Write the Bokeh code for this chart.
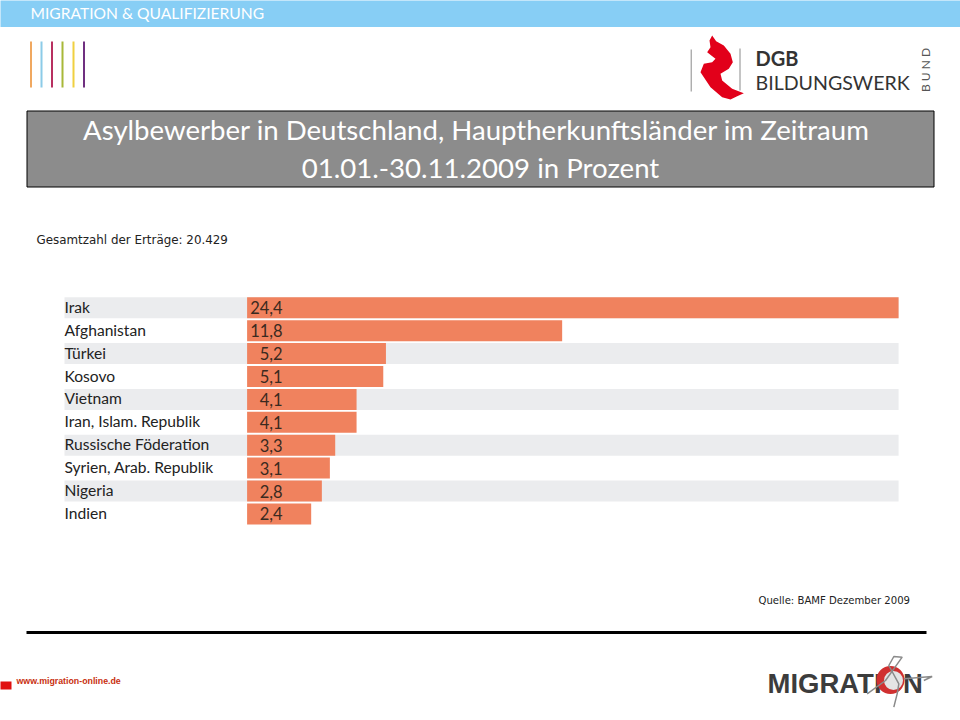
from bokeh.plotting import figure
from bokeh.models import Range1d
from bokeh.core.properties import value
from bokeh.embed import file_html
from bokeh.resources import INLINE

countries = ["Irak", "Afghanistan", "Türkei", "Kosovo", "Vietnam", "Iran, Islam. Republik",
             "Russische Föderation", "Syrien, Arab. Republik", "Nigeria", "Indien"]
values = [24.4, 11.8, 5.2, 5.1, 4.1, 4.1, 3.3, 3.1, 2.8, 2.4]
value_labels = ["24,4", "11,8", "5,2", "5,1", "4,1", "4,1", "3,3", "3,1", "2,8", "2,4"]
title_lines = ["Asylbewerber in Deutschland, Hauptherkunftsländer im Zeitraum", "01.01.-30.11.2009 in Prozent"]
rows = list(range(len(countries)))

PX_PER_UNIT = 26.7
PX_PER_ROW = 22.9
X0 = 246.6
Y0 = 307.3

p = figure(width=960, height=720, output_backend="svg", toolbar_location=None,
           x_range=Range1d(-X0 / PX_PER_UNIT, (960 - X0) / PX_PER_UNIT),
           y_range=Range1d((720 - Y0) / PX_PER_ROW, -Y0 / PX_PER_ROW),
           min_border=0, outline_line_color=None, background_fill_color="white",
           x_axis_location=None, y_axis_location=None)
p.grid.visible = False
p.extra_x_ranges = {"px": Range1d(0, 960)}
p.extra_y_ranges = {"px": Range1d(720, 0)}
PX = dict(x_range_name="px", y_range_name="px")

LABEL_FONT = value("Lato")
SMALL_FONT = value("DejaVu Sans")
ARIAL = value("Liberation Sans")

# header
p.quad(left=-2, right=962, top=-2, bottom=26.5, fill_color="#87cef5", line_color=None, **PX)
p.text(x=[30], y=[12.5], text=["MIGRATION & QUALIFIZIERUNG"], text_color="white", text_font=LABEL_FONT,
       text_font_size="15.6px", text_baseline="middle", **PX)

stripe_x = [30.5, 41, 51.5, 62, 73, 83.5]
stripe_c = ["#f0a860", "#8ccbe8", "#b83060", "#a8b838", "#f0d040", "#703080"]
p.segment(x0=stripe_x, x1=stripe_x, y0=[41] * 6, y1=[87] * 6, line_color=stripe_c, line_width=2, **PX)

# DGB logo
sw_x = [50, 62, 85, 105, 112, 100, 75, 80, 110, 145, 125, 105, 80, 45, 15, 25, 50, 60, 35, 45, 42]
sw_y = [15, 32, 45, 70, 95, 115, 130, 150, 175, 188, 197, 207, 200, 170, 125, 100, 95, 85, 65, 50, 30]
p.patch(x=[695 + v / 3 for v in sw_x], y=[30 + v / 3 for v in sw_y], fill_color="#e2001a", line_color=None, **PX)
p.segment(x0=[690.7, 739.5], x1=[690.7, 739.5], y0=[49, 48], y1=[91, 90], line_color="#8a8a8a", line_width=1, **PX)
p.text(x=[755], y=[57.5], text=["DGB"], text_font=LABEL_FONT, text_font_style="bold", text_font_size="20px",
       text_color="#333333", text_baseline="middle", **PX)
p.text(x=[755], y=[81.5], text=["BILDUNGSWERK"], text_font=LABEL_FONT, text_font_size="19.6px",
       text_color="#333333", text_baseline="middle", **PX)
p.text(x=[925], y=[69.5], text=["B U N D"], text_font=LABEL_FONT, text_font_size="12px", angle=1.5708,
       text_color="#555555", text_align="center", text_baseline="middle", **PX)

# title box
p.quad(left=26.5, right=933.5, top=110.5, bottom=186.5, fill_color="#8c8c8c", line_color="black", line_width=1,
       line_join="miter", **PX)
p.text(x=[476, 480], y=[128.5, 166.5], text=title_lines, text_color="white", text_font=LABEL_FONT,
       text_font_size="27.6px", text_align="center", text_baseline="middle", **PX)

p.text(x=[36], y=[239], text=["Gesamtzahl der Erträge: 20.429"], text_color="#222222", text_font=SMALL_FONT,
       text_font_size="11.9px", text_baseline="middle", **PX)

# chart
band_rows = rows[::2]
p.hbar(y=band_rows, left=[(64 - X0) / PX_PER_UNIT] * len(band_rows), right=[max(values)] * len(band_rows),
       height=21 / PX_PER_ROW, fill_color="#ebecee", line_color=None)
p.hbar(y=rows, left=0, right=values, height=21 / PX_PER_ROW, fill_color="#f0825e", line_color=None)
p.text(x=[(64 - X0) / PX_PER_UNIT] * len(rows), y=rows, text=countries, text_color="#222222",
       text_font=LABEL_FONT, text_font_size="15.6px", text_baseline="middle", y_offset=-1)
p.text(x=[1.37] * len(rows), y=rows, text=value_labels, text_color="#3a2a20", text_align="right",
       text_font=LABEL_FONT, text_font_size="16.5px", text_baseline="middle", x_offset=-1)

p.text(x=[909.5], y=[600], text=["Quelle: BAMF Dezember 2009"], text_color="#222222", text_font=SMALL_FONT,
       text_font_size="10.1px", text_align="right", text_baseline="middle", **PX)

# footer
p.quad(left=26, right=926, top=630.5, bottom=633.5, fill_color="black", line_color=None, **PX)
p.quad(left=-2, right=11, top=681, bottom=689, fill_color="#e01010", line_color=None, **PX)
p.text(x=[16], y=[680.5], text=["www.migration-online.de"], text_color="#c83010", text_font=ARIAL,
       text_font_size="8.8px", text_font_style="bold", text_baseline="middle", **PX)

# MIGRATION logo
p.text(x=[767], y=[683], text=["MIGRATION"], text_color="#3c3c3c", text_font=ARIAL,
       text_font_style="bold", text_font_size="27.5px", text_baseline="middle", **PX)
p.scatter(x=[890], y=[679.5], size=28, marker="circle", fill_color="#d03030", line_color=None, **PX)
p.scatter(x=[893], y=[680], size=19, marker="circle", fill_color="#e4e4e4", line_color=None, **PX)
g1x = [20, 75, 100, 125, 100, 85, 115, 110, 100]
g1y = [130, 90, 55, 20, 18, 45, 100, 130, 170]
g2x = [130, 215, 190]
g2y = [85, 78, 90]
p.line(x=[860 + v / 3 for v in g1x], y=[650 + v / 3 for v in g1y], line_color="#8a8a8a", line_width=1.5, **PX)
p.line(x=[860 + v / 3 for v in g2x], y=[650 + v / 3 for v in g2y], line_color="#8a8a8a", line_width=1.5, **PX)

open("out.html", "w").write(file_html(p, INLINE))
